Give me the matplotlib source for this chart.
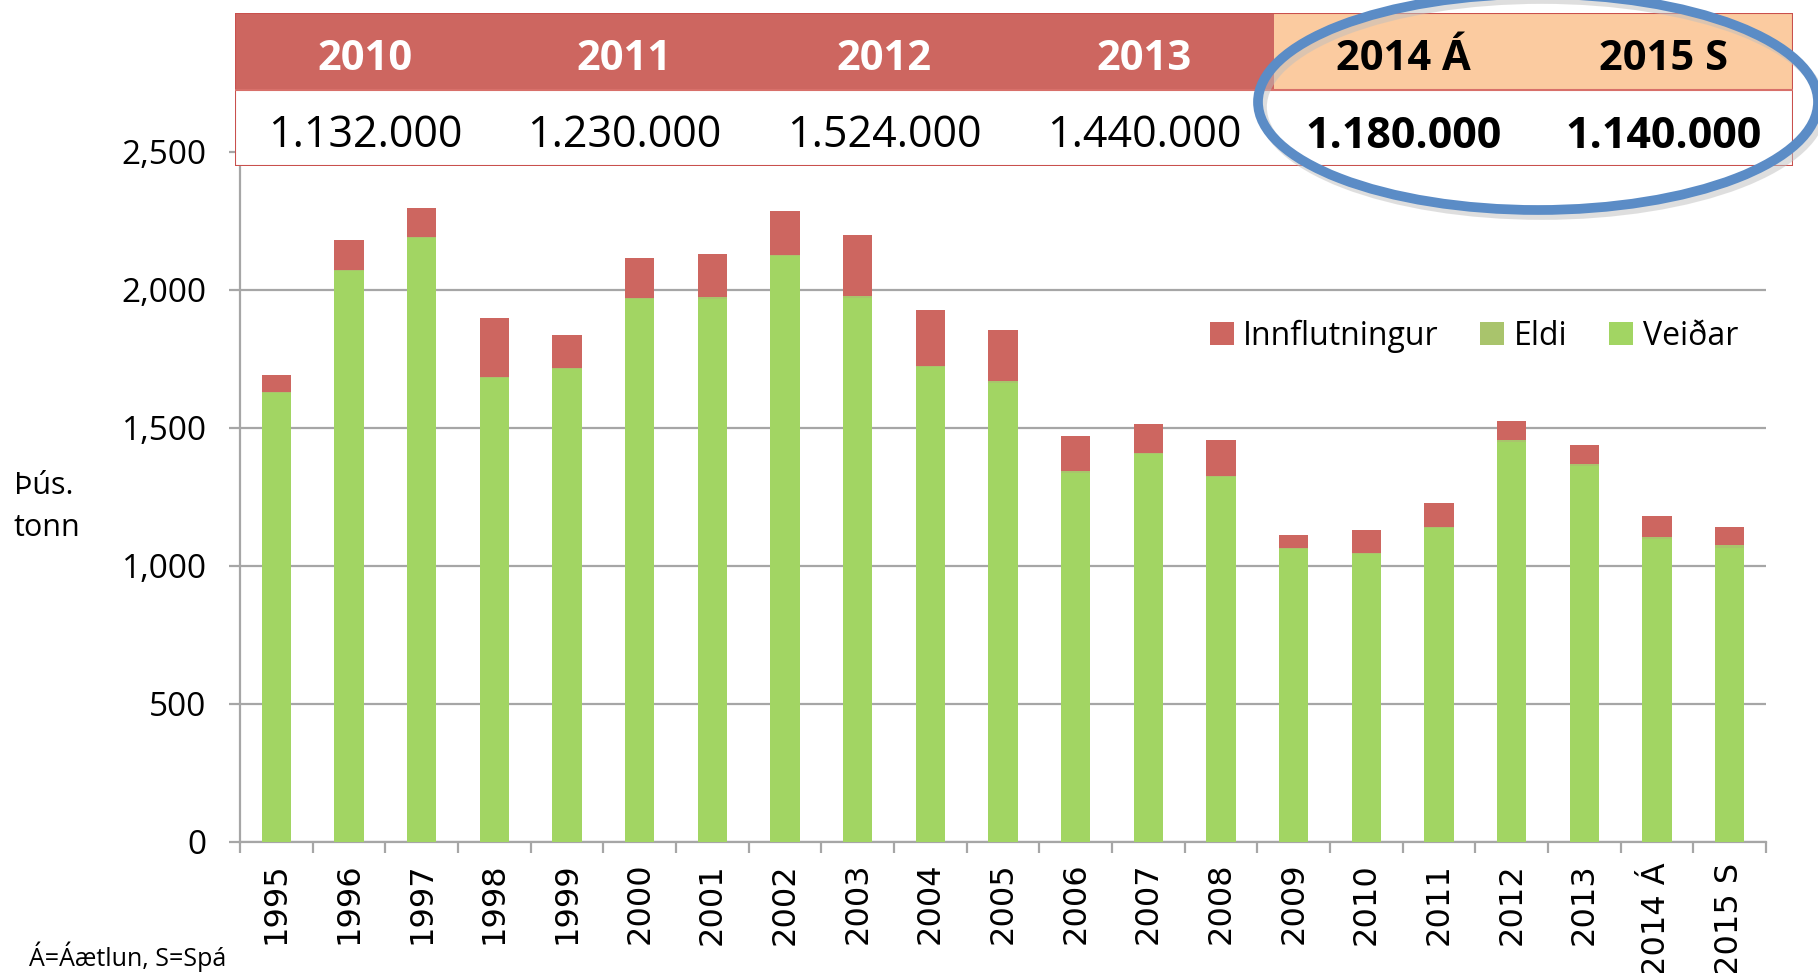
import matplotlib.pyplot as plt
from matplotlib.patches import Rectangle, Ellipse
from matplotlib.ticker import FuncFormatter, FixedLocator
import numpy as np

# gögn (þús. tonn)
ar = ["1995", "1996", "1997", "1998", "1999", "2000", "2001", "2002", "2003", "2004", "2005",
      "2006", "2007", "2008", "2009", "2010", "2011", "2012", "2013", "2014 Á", "2015 S"]
veidar = [1626, 2069, 2189, 1681, 1713, 1966, 1969, 2123, 1972, 1720, 1663,
          1336, 1405, 1321, 1062, 1043, 1138, 1450, 1362, 1097, 1064]
eldi = [3, 3, 3, 3, 4, 4, 4, 4, 5, 6, 6, 8, 5, 5, 5, 5, 5, 5, 6, 8, 12]
innflutningur = [64, 109, 106, 214, 121, 145, 158, 159, 224, 200, 185,
                 126, 103, 130, 45, 84, 87, 69, 72, 75, 64]

tafla_ar = ["2010", "2011", "2012", "2013", "2014 Á", "2015 S"]
tafla_gildi = ["1.132.000", "1.230.000", "1.524.000", "1.440.000", "1.180.000", "1.140.000"]

RAUTT = "#CD6660"
GRAENT = "#A2D563"
ELDI = "#A9C46C"
GRATT = "#A6A6A6"
FONT = ["Open Sans", "DejaVu Sans"]

W, H = 1818, 973
fig = plt.figure(figsize=(W / 100, H / 100), dpi=100)

# aðalgraf
ax = fig.add_axes([240 / W, 1 - 842 / H, (1766 - 240) / W, (842 - 152) / H])
x = np.arange(len(ar))
v = np.array(veidar)
e = np.array(eldi)
i = np.array(innflutningur)
ax.bar(x, v, width=0.4, color=GRAENT, zorder=3, label="Veiðar")
ax.bar(x, e, width=0.4, bottom=v, color=ELDI, zorder=3, label="Eldi")
ax.bar(x, i, width=0.4, bottom=v + e, color=RAUTT, zorder=3, label="Innflutningur")

ax.set_xlim(-0.5, len(ar) - 0.5)
ax.set_ylim(0, 2500)
ax.set_yticks([0, 500, 1000, 1500, 2000, 2500])
ax.yaxis.set_major_formatter(FuncFormatter(lambda val, p: f"{int(val):,}"))
ax.grid(axis="y", color=GRATT, linewidth=1.6, zorder=0)
for s in ["top", "right"]:
    ax.spines[s].set_visible(False)
ax.spines["left"].set_color(GRATT)
ax.spines["bottom"].set_color(GRATT)
ax.spines["left"].set_linewidth(1.6)
ax.spines["bottom"].set_linewidth(1.6)

ax.set_xticks(x)
ax.set_xticklabels(ar, rotation=90, fontsize=23, family="DejaVu Sans")
ax.tick_params(axis="x", which="major", length=0, pad=15)
ax.xaxis.set_minor_locator(FixedLocator(np.arange(-0.5, len(ar), 1)))
ax.tick_params(axis="x", which="minor", length=8, width=1.6, color=GRATT)
ax.tick_params(axis="y", length=8, width=1.6, color=GRATT, pad=16)
for t in ax.get_yticklabels():
    t.set_fontsize(24)
    t.set_family(FONT)

h, l = ax.get_legend_handles_labels()
fig.legend(h[::-1], l[::-1], loc="center right", bbox_to_anchor=(1738 / W, 1 - 336 / H),
           ncol=3, frameon=False, prop={"family": FONT, "size": 23},
           handlelength=0.75, handleheight=0.75, handletextpad=0.3, columnspacing=1.3,
           borderaxespad=0, borderpad=0)

fig.text(14 / W, 1 - 507 / H, "Þús.\ntonn", fontsize=22, family=FONT, ha="left", va="center",
         linespacing=1.5)
fig.text(29 / W, 1 - 966 / H, "Á=Áætlun, S=Spá", fontsize=18, family=FONT, ha="left",
         va="baseline")

# tafla efst
tx = fig.add_axes([235 / W, 1 - 166 / H, (1793 - 235) / W, (166 - 13) / H])
tx.set_xlim(0, 6)
tx.set_ylim(0, 2)
tx.axis("off")
tx.add_patch(Rectangle((0, 0), 6, 2, facecolor="white", edgecolor="none"))
tx.add_patch(Rectangle((0, 1), 4, 1, facecolor=RAUTT, edgecolor="none"))
tx.add_patch(Rectangle((4, 1), 2, 1, facecolor="#FBCBA0", edgecolor="none"))
tx.add_patch(Rectangle((0, 0), 6, 2, facecolor="none", edgecolor="#C9504D", linewidth=1.5))
tx.plot([0, 6], [1, 1], color="#D8706A", linewidth=1.5)
for k in range(6):
    spa = k >= 4
    tx.text(k + 0.5, 1.39, tafla_ar[k], ha="center", va="center", fontsize=30, fontweight="bold",
            family=FONT, color="black" if spa else "white")
    tx.text(k + 0.5, 0.39, tafla_gildi[k], ha="center", va="center", fontsize=31,
            fontweight="bold" if spa else "normal", family=FONT, color="black")

# blár hringur um áætlun og spá
fig.patches.append(Ellipse((1542 / W, 1 - 107 / H), 560 / W, 216 / H, transform=fig.transFigure,
                           facecolor="none", edgecolor="#BFBFBF", linewidth=7, alpha=0.5,
                           zorder=9))
fig.patches.append(Ellipse((1538 / W, 1 - 102 / H), 560 / W, 216 / H, transform=fig.transFigure,
                           facecolor="none", edgecolor="#5B8CC6", linewidth=7, zorder=10))

fig.savefig("out.png", dpi=100)
